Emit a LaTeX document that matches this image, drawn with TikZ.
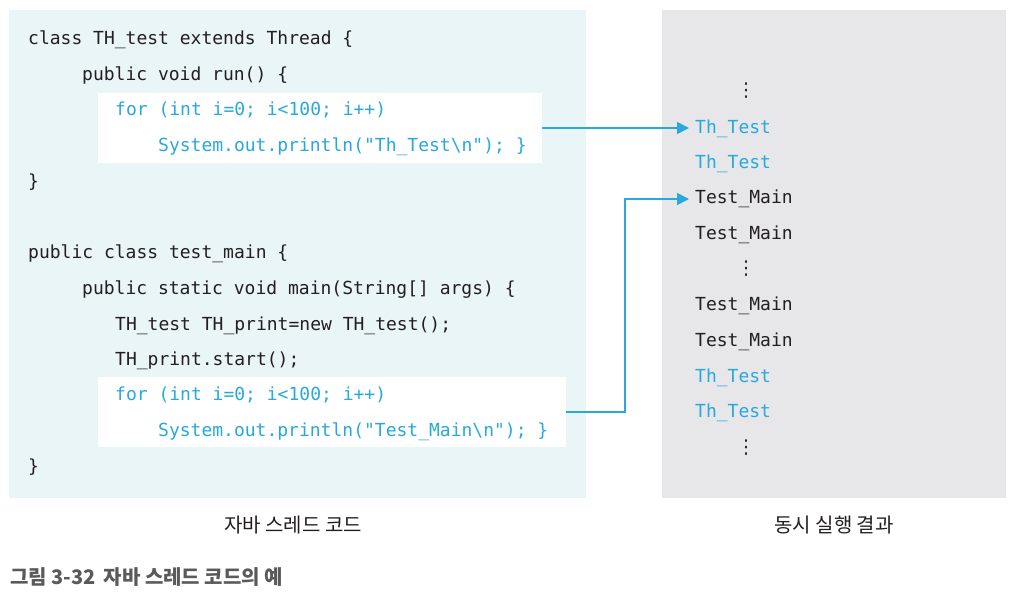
\documentclass[tikz,border=0pt]{standalone}
\usepackage{fontspec}
\usepackage{tikz}
\usetikzlibrary{arrows.meta,positioning}
\newfontfamily\codefont{DejaVu Sans Mono}
\newfontfamily\dotfont{DejaVu Sans}
\newfontfamily\krfont{Noto Sans CJK KR}
\definecolor{codeblue}{RGB}{41,168,222}
\definecolor{panelblue}{RGB}{234,245,248}
\definecolor{panelgrey}{RGB}{231,231,234}
\definecolor{inkblack}{RGB}{35,31,32}
\definecolor{capgrey}{RGB}{90,90,90}

\begin{document}
\begin{tikzpicture}[x=1pt,y=-1pt,
  code/.style={anchor=west,inner sep=0pt,yshift=-2pt,text height=13pt,text depth=4pt,font=\codefont\fontsize{18}{18}\selectfont,text=inkblack},
  hot/.style={code,text=codeblue},
  more/.style={inner sep=0pt,font=\dotfont\fontsize{19}{19}\selectfont,text=inkblack},
  loopbox/.style={rectangle,fill=white,inner sep=0pt,minimum height=70pt},
  flow/.style={draw=codeblue,line width=1.6pt,-{Triangle[length=12pt,width=12pt]}},
  caption/.style={font=\krfont\fontsize{20}{20}\selectfont,text=inkblack}]
\useasboundingbox (0,0) rectangle (1016,594);
% panels
\fill[panelblue] (9,10) rectangle (586,498);
\fill[panelgrey] (662,10) rectangle (1006,498);
\node[loopbox,minimum width=444pt] (loopA) at (320,128) {};
\node[loopbox,minimum width=468pt] (loopB) at (332,412) {};
% thread code
\node[code] (c1) at (28,38) {class TH\_test extends Thread \{};
\node[code] (c2) at (82,74) {public void run() \{};
\node[hot] (c3) at (115,109) {for (int i=0; i<100; i++)};
\node[hot] (c4) at (158,145) {System.out.println("Th\_Test\textbackslash n"); \}};
\node[code] (c5) at (28,181) {\}};
\node[code] (m1) at (28,252) {public class test\_main \{};
\node[code] (m2) at (82,288) {public static void main(String[] args) \{};
\node[code] (m3) at (115,324) {TH\_test TH\_print=new TH\_test();};
\node[code] (m4) at (115,359) {TH\_print.start();};
\node[hot] (m5) at (115,394) {for (int i=0; i<100; i++)};
\node[hot] (m6) at (158,430) {System.out.println("Test\_Main\textbackslash n"); \}};
\node[code] (m7) at (28,466) {\}};
% output
\node[more] (d1) at (746,91) {⋮};
\node[hot] (tA) at (695,127) {Th\_Test};
\node[hot] (tB) at (695,162) {Th\_Test};
\node[code] (tM1) at (695,197) {Test\_Main};
\node[code] (tM2) at (695,233) {Test\_Main};
\node[more] (d2) at (746,269) {⋮};
\node[code] (tM3) at (695,304) {Test\_Main};
\node[code] (tM4) at (695,340) {Test\_Main};
\node[hot] (tC) at (695,376) {Th\_Test};
\node[hot] (tD) at (695,411) {Th\_Test};
\node[more] (d3) at (746,448) {⋮};
% arrows
\coordinate (bend) at (625,0);
\draw[flow] (loopA.east) -- ([xshift=-6pt]loopA.east -| tA.west);
\draw[flow] (loopB.east) -- (loopB.east -| bend) |- ([xshift=-6pt]tM1.west);
% captions
\node[caption] (capL) at (293,525) {자바 스레드 코드};
\node[caption] (capR) at (834,525) {동시 실행 결과};
\node[caption,anchor=west,inner sep=0pt,text=capgrey,font=\krfont\bfseries\fontsize{20}{20}\selectfont] (title) at (10,577) {그림 3-32\, 자바 스레드 코드의 예};
\end{tikzpicture}
\end{document}
